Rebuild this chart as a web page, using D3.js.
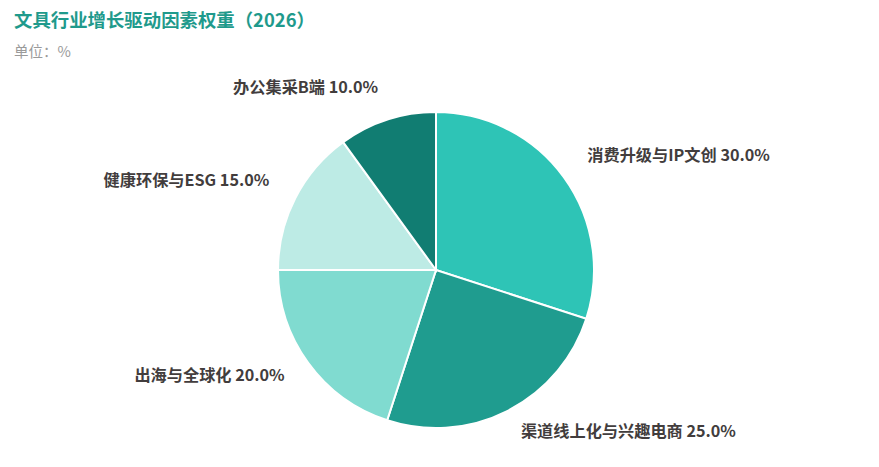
<!DOCTYPE html>
<html>
<head>
<meta charset="utf-8">
<script src="https://cdn.jsdelivr.net/npm/d3@7"></script>
<style>
  body { margin: 0; background: #fff; font-family: "Noto Sans CJK SC", "Noto Sans", sans-serif; }
  #container { width: 879px; height: 467px; }
</style>
</head>
<body>
<div id="container"></div>
<script>
// chart data
var categories = ["消费升级与IP文创", "渠道线上化与兴趣电商", "出海与全球化", "健康环保与ESG", "办公集采B端"];
var weights = [30, 25, 20, 15, 10];
var colors = ["#2EC4B6", "#1F9C8F", "#80DBD0", "#BDEBE5", "#117D72"];

var title = "文具行业增长驱动因素权重（2026）";
var unitLabel = "单位：%";

function makePie() {
	var w = 879, h = 467;
	var cx = 436, cy = 270;
	var r = 158;
	var labelR = 187;

	var svg = d3.select("#container")
		.append("svg")
		.attr("width", w)
		.attr("height", h);

	svg.append("text")
		.attr("x", 14)
		.attr("y", 27)
		.attr("font-size", "18.4px")
		.attr("font-weight", "bold")
		.attr("fill", "#1F9A8C")
		.text(title);

	svg.append("text")
		.attr("x", 14)
		.attr("y", 57)
		.attr("font-size", "14.5px")
		.attr("fill", "#9a9a9a")
		.text(unitLabel);

	var data = categories.map(function(c, i) {
		return { name: c, value: weights[i], color: colors[i] };
	});

	var pie = d3.pie()
		.value(function(d) { return d.value; })
		.sort(null);

	var arc = d3.arc().innerRadius(0).outerRadius(r);
	var labelArc = d3.arc().innerRadius(labelR).outerRadius(labelR);

	var g = svg.append("g")
		.attr("transform", "translate(" + cx + "," + cy + ")");

	var arcs = pie(data);

	g.selectAll("path")
		.data(arcs)
		.enter()
		.append("path")
		.attr("d", arc)
		.attr("fill", function(d) { return d.data.color; })
		.attr("stroke", "#fff")
		.attr("stroke-width", 2);

	g.selectAll("text")
		.data(arcs)
		.enter()
		.append("text")
		.attr("transform", function(d) {
			var p = labelArc.centroid(d);
			return "translate(" + p[0] + "," + (p[1] - 5) + ")";
		})
		.attr("dy", "0.35em")
		.attr("text-anchor", function(d) {
			var mid = (d.startAngle + d.endAngle) / 2;
			return mid < Math.PI ? "start" : "end";
		})
		.attr("font-size", "16.2px")
		.attr("font-weight", "bold")
		.attr("fill", "#423d3d")
		.text(function(d) {
			return d.data.name + " " + d.data.value.toFixed(1) + "%";
		});
}

makePie();
</script>
</body>
</html>
